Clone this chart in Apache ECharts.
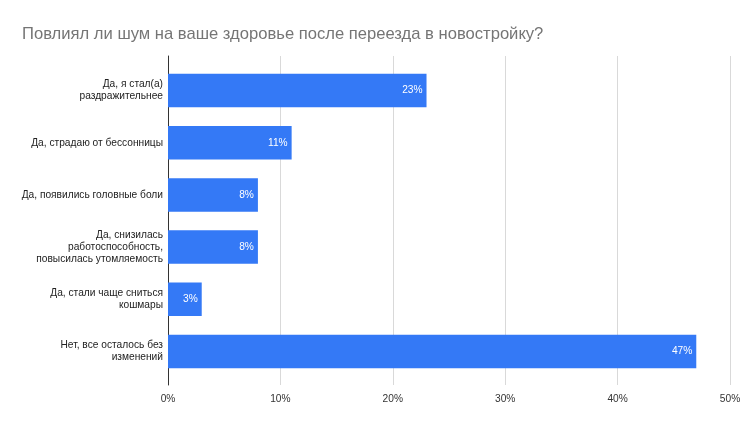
<!DOCTYPE html>
<html><head><meta charset="utf-8">
<script src="https://cdn.jsdelivr.net/npm/echarts@6/dist/echarts.min.js"></script>
<style>html,body{margin:0;padding:0;background:#fff}#c{width:752px;height:425px}</style>
</head><body><div id="c"></div>
<script>
const title = 'Повлиял ли шум на ваше здоровье после переезда в новостройку?';
const categories = [
  'Да, я стал(а)\nраздражительнее',
  'Да, страдаю от бессонницы',
  'Да, появились головные боли',
  'Да, снизилась\nработоспособность,\nповысилась утомляемость',
  'Да, стали чаще сниться\nкошмары',
  'Нет, все осталось без\nизменений'
];
const values = [23, 11, 8, 8, 3, 47];
const xTicks = [0, 10, 20, 30, 40, 50];

const font = '"Liberation Sans", Arial, sans-serif';
const chart = echarts.init(document.getElementById('c'));
chart.setOption({
  animation: false,
  title: { text: title, left: 17, top: 21, textStyle: { fontFamily: font, fontSize: 16.6, fontWeight: 'normal', color: '#757575' } },
  grid: [
    { left: 168, right: 22, top: 56, bottom: 40 },
    { left: 168, right: 22, top: 64.5, bottom: 47.5 }
  ],
  xAxis: [
    { type: 'value', gridIndex: 0, min: xTicks[0], max: xTicks[xTicks.length-1], interval: 10,
      axisLabel: { formatter: v => v + '%', fontFamily: font, fontSize: 10.2, color: '#333', margin: 9 },
      axisLine: { show: false }, axisTick: { show: false },
      splitLine: { lineStyle: { color: '#d9d9d9', width: 1 } } },
    { type: 'value', gridIndex: 1, min: 0, max: 50, show: false }
  ],
  yAxis: [
    { type: 'category', gridIndex: 0, data: [''], axisLabel: { show: false }, axisTick: { show: false },
      axisLine: { show: true, lineStyle: { color: '#333', width: 1 } } },
    { type: 'category', gridIndex: 1, data: categories, inverse: true,
      axisLine: { show: false }, axisTick: { show: false },
      axisLabel: { fontFamily: font, fontSize: 10.2, color: '#222', margin: 5, lineHeight: 12, align: 'right' } }
  ],
  series: [{
    type: 'bar', xAxisIndex: 1, yAxisIndex: 1, data: values, barWidth: 33.5,
    itemStyle: { color: '#3479f6' },
    label: { show: true, position: 'insideRight', distance: 4, formatter: p => p.value + '%',
      color: '#fff', fontFamily: font, fontSize: 10.2 }
  }]
});
</script></body></html>
